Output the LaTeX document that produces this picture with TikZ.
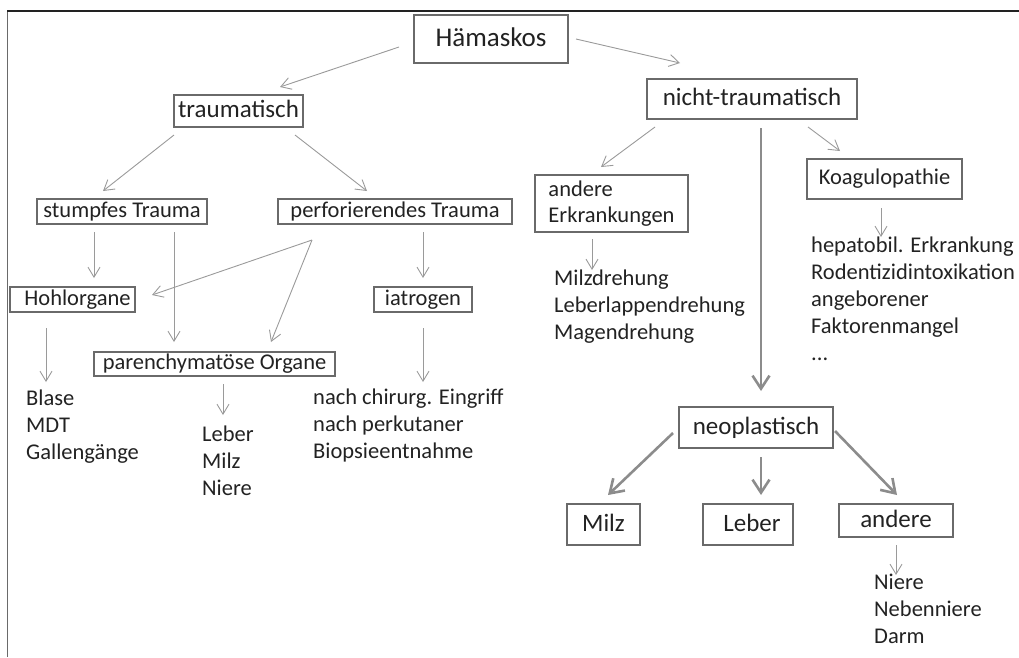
\documentclass[tikz,border=0pt]{standalone}
\usepackage{fontspec}
\setmainfont{Carlito}
\usetikzlibrary{arrows.meta}
\definecolor{txt}{HTML}{222222}
\definecolor{boxc}{HTML}{6A6A6A}
\definecolor{arc}{HTML}{9A9A9A}
\definecolor{thk}{HTML}{8C8C8C}
\tikzset{
  box/.style={draw=boxc, line width=1.8pt, rectangle, inner sep=0pt, text=txt},
  plain/.style={text=txt, inner sep=0pt, align=left, anchor=north west, font=\fontsize{22.5}{27}\selectfont},
  thin/.style={draw=arc, line width=0.9pt, -{Straight Barb[length=10pt,width=12pt]}},
  thick/.style={draw=thk, line width=2.6pt, -{Straight Barb[length=13pt,width=17pt]}},
  fA/.style={font=\fontsize{27}{32}\selectfont, text height=20pt, text depth=6pt},
  fB/.style={font=\fontsize{25}{30}\selectfont, text height=18.5pt, text depth=5.5pt},
  fC/.style={font=\fontsize{22.5}{27}\selectfont, text height=16.5pt, text depth=5pt},
}
\begin{document}
\begin{tikzpicture}[x=1pt,y=-1pt]
\useasboundingbox (0,0) rectangle (1019,657);
% frame
\draw[draw=boxc, line width=1.5pt] (7.5,657) -- (7.5,11);
\draw[draw=txt, line width=1.3pt] (7,11) -- (1019,11);

% boxes
\node[box,fA,minimum width=154pt,minimum height=48pt] (ham) at (491,39) {Hämaskos};
\node[box,fB,minimum width=129pt,minimum height=32pt] (tra) at (238.5,111) {traumatisch};
\node[box,fB,minimum width=210pt,minimum height=40pt] (ntr) at (752,99) {nicht-traumatisch\hspace{12pt}};
\node[box,fC,minimum width=170pt,minimum height=25pt] (stu) at (122,211.5) {stumpfes Trauma\hspace{6pt}};
\node[box,fC,minimum width=234pt,minimum height=25pt] (per) at (395,211.5) {perforierendes Trauma};
\node[box,fC,minimum width=125pt,minimum height=25pt] (hoh) at (72.5,299.5) {\hspace{10pt}Hohlorgane};
\node[box,fC,minimum width=98pt,minimum height=25pt] (iat) at (423,299.5) {iatrogen};
\node[box,fC,minimum width=241pt,minimum height=24pt] (par) at (214.5,364) {parenchymatöse Organe\hspace{10pt}};
\node[box,font=\fontsize{22.5}{26}\selectfont,minimum width=153pt,minimum height=57pt,align=left] (and) at (611.5,203.5)
      {andere\\Erkrankungen};
\node[box,fC,minimum width=155pt,minimum height=40pt] (koa) at (884.5,179) {Koagulopathie};
\node[box,fB,minimum width=154pt,minimum height=41pt] (neo) at (756,427.5) {neoplastisch};
\node[box,fB,minimum width=73pt,minimum height=41pt] (mil) at (603.5,524.5) {Milz\hspace{6pt}};
\node[box,fB,minimum width=90pt,minimum height=41pt] (leb) at (748,524.5) {\hspace{8pt}Leber};
\node[box,fB,minimum width=114pt,minimum height=33pt] (oth) at (896,520.5) {andere};

% list texts
\node[plain] (l1) at (26,390) {Blase\\MDT\\Gallengänge};
\node[plain] (l2) at (202,426) {Leber\\Milz\\Niere};
\node[plain] (l3) at (313,389) {nach chirurg. Eingriff\\nach perkutaner\\Biopsieentnahme};
\node[plain] (l4) at (554,270) {Milzdrehung\\Leberlappendrehung\\Magendrehung};
\node[plain] (l5) at (811,237) {hepatobil. Erkrankung\\Rodentizidintoxikation\\angeborener\\Faktorenmangel\\...};
\node[plain] (l6) at (874,574) {Niere\\Nebenniere\\Darm};

% coordinates for arrow ends
\coordinate (a1s) at (399,47);  \coordinate (a1e) at (280,87);
\coordinate (a2s) at (576,39);  \coordinate (a2e) at (680,63);
\coordinate (a3s) at (174,135); \coordinate (a3e) at (103,191);
\coordinate (a4s) at (295,135); \coordinate (a4e) at (367,191);
\coordinate (a5s) at (94,232);  \coordinate (a5e) at (94,278);
\coordinate (a6s) at (174,232); \coordinate (a6e) at (174,342);
\coordinate (a7s) at (312,240); \coordinate (a7e) at (152,295);
\coordinate (a8e) at (271,342);
\coordinate (a9s) at (423,232); \coordinate (a9e) at (423,278);
\coordinate (b1s) at (46,328);  \coordinate (b1e) at (46,382);
\coordinate (b2s) at (223,384); \coordinate (b2e) at (223,415);
\coordinate (b3s) at (423,328); \coordinate (b3e) at (423,382);
\coordinate (c1s) at (655,127); \coordinate (c1e) at (601,167);
\coordinate (c2s) at (808,127); \coordinate (c2e) at (840,151);
\coordinate (c3s) at (761,128); \coordinate (c3e) at (761,391);
\coordinate (c4s) at (592,239); \coordinate (c4e) at (592,270);
\coordinate (c5s) at (881,208); \coordinate (c5e) at (881,237);
\coordinate (d1s) at (673,433); \coordinate (d1e) at (608,495);
\coordinate (d2s) at (761,457); \coordinate (d2e) at (761,495);
\coordinate (d3s) at (835,431); \coordinate (d3e) at (897,495);
\coordinate (d4s) at (896,545); \coordinate (d4e) at (896,575);

% connectors
\draw[thin] (a1s) -- (a1e);
\draw[thin] (a2s) -- (a2e);
\draw[thin] (a3s) -- (a3e);
\draw[thin] (a4s) -- (a4e);
\draw[thin] (a5s) -- (a5e);
\draw[thin] (a6s) -- (a6e);
\draw[thin] (a7s) -- (a7e);
\draw[thin] (a7s) -- (a8e);
\draw[thin] (a9s) -- (a9e);
\draw[thin] (b1s) -- (b1e);
\draw[thin] (b2s) -- (b2e);
\draw[thin] (b3s) -- (b3e);
\draw[thin] (c1s) -- (c1e);
\draw[thin] (c2s) -- (c2e);
\draw[thick] (c3s) -- (c3e);
\draw[thin] (c4s) -- (c4e);
\draw[thin] (c5s) -- (c5e);
\draw[thick] (d1s) -- (d1e);
\draw[thick] (d2s) -- (d2e);
\draw[thick] (d3s) -- (d3e);
\draw[thin] (d4s) -- (d4e);
\end{tikzpicture}
\end{document}
